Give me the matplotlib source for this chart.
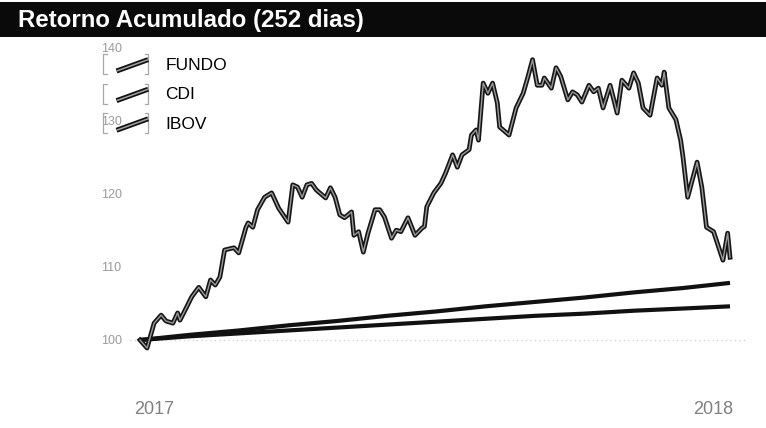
import matplotlib
matplotlib.use("Agg")
import matplotlib.pyplot as plt
from matplotlib.patches import Rectangle
from matplotlib.lines import Line2D
from matplotlib.legend_handler import HandlerBase

plt.rcParams['font.family'] = ['Liberation Sans', 'DejaVu Sans']

# ---------------- data ----------------
title = "Retorno Acumulado (252 dias)"
series_names = ["FUNDO", "CDI", "IBOV"]

ibov_days = [0, 3, 6, 9, 11, 14, 16, 17, 20, 22, 25, 28, 30, 32, 34, 36, 40, 42,
             45, 46, 48, 50, 53, 56, 59, 63, 65, 67, 69, 71, 73, 75, 79, 81, 83,
             85, 87, 90, 91, 93, 95, 97, 100, 102, 104, 107, 109, 111, 114, 117,
             120, 121, 122, 125, 128, 130, 133, 135, 137, 140, 141, 143, 144, 146,
             148, 150, 152, 153, 157, 160, 163, 165, 167, 169, 171, 172, 175, 177,
             179, 182, 184, 186, 188, 191, 193, 195, 197, 200, 203, 205, 208, 210,
             212, 214, 217, 220, 222, 223, 225, 228, 230, 231, 233, 237, 239, 241,
             244, 248, 250, 251]
ibov_vals = [100.0, 98.9, 102.3, 103.4, 102.6, 102.3, 103.7, 102.7, 104.6, 105.9,
             107.2, 105.9, 108.2, 107.5, 108.6, 112.3, 112.6, 111.9, 115.3, 116.0,
             115.4, 117.8, 119.5, 120.1, 118.0, 116.1, 121.2, 120.9, 119.5, 121.2,
             121.4, 120.5, 119.4, 120.8, 119.5, 117.1, 116.7, 117.5, 114.3, 114.8,
             112.0, 114.6, 117.8, 117.8, 116.8, 113.9, 115.0, 114.8, 116.7, 114.3,
             115.3, 115.5, 118.2, 120.1, 121.4, 122.8, 125.3, 123.6, 125.3, 126.0,
             128.0, 128.7, 127.3, 135.1, 133.7, 135.1, 132.4, 129.1, 128.0, 131.7,
             133.7, 135.9, 138.3, 134.8, 134.8, 135.8, 134.4, 137.2, 136.0, 132.8,
             133.9, 133.5, 132.5, 134.8, 133.9, 134.4, 131.7, 134.8, 131.0, 135.5,
             134.4, 136.5, 135.1, 131.7, 130.7, 135.8, 134.8, 136.6, 131.7, 130.1,
             127.3, 125.0, 119.5, 124.3, 120.9, 115.4, 114.8, 110.9, 114.6, 111.3]

month_days = [0, 21, 42, 63, 84, 105, 126, 147, 168, 189, 210, 231, 251]
cdi_vals = [100.0, 100.7, 101.3, 102.0, 102.6, 103.3, 103.9, 104.6, 105.2,
            105.8, 106.5, 107.1, 107.8]
fundo_vals = [100.0, 100.5, 100.9, 101.3, 101.7, 102.1, 102.5, 102.9, 103.3,
              103.6, 104.0, 104.3, 104.6]

yticks = [100, 110, 120, 130, 140]
xtick_days = [6, 244]
xtick_labels = ["2017", "2018"]

# ---------------- figure ----------------
W, H = 766, 428
fig = plt.figure(figsize=(W / 100, H / 100), dpi=100)
fig.patch.set_facecolor("white")

# title bar
fig.patches.append(Rectangle((0, 1 - 37 / H), 1, 35 / H, transform=fig.transFigure,
                             facecolor="#0a0a0a", edgecolor="none", zorder=0))
fig.text(18 / W, 1 - 20 / H, title, color="white", fontsize=17.3,
         fontweight="bold", va="center", ha="left")

ax = fig.add_axes([130 / W, 1 - 397 / H, (748 - 130) / W, (397 - 42) / H])
px_per_day = 590 / 251
ax.set_xlim(-10 / px_per_day, 251 + 18 / px_per_day)
ax.set_ylim(100 - 57 / 7.32, 100 + 298 / 7.32)

for s in ax.spines.values():
    s.set_visible(False)

ax.axhline(100, color="#c8c8c8", lw=0.8, ls=(0, (1, 3)), zorder=1)

# lines: dark outline with lighter core (scanned look)
ax.plot(month_days, fundo_vals, color="#111111", lw=3.0, solid_capstyle="butt", zorder=3)
ax.plot(month_days, cdi_vals, color="#111111", lw=3.0, solid_capstyle="butt", zorder=3)
ax.plot(ibov_days, ibov_vals, color="#151515", lw=3.4, zorder=4)
ax.plot(ibov_days, ibov_vals, color="#9a9a9a", lw=1.0, zorder=5)

ax.set_yticks(yticks)
ax.set_yticklabels([str(v) for v in yticks])
ax.set_xticks(xtick_days)
ax.set_xticklabels(xtick_labels)
ax.tick_params(axis="y", length=0, pad=6, labelsize=9, labelcolor="#9a9a9a")
ax.tick_params(axis="x", length=0, pad=3, labelsize=13, labelcolor="#808080")


class DiagHandler(HandlerBase):
    def create_artists(self, legend, orig_handle, xdescent, ydescent, width,
                       height, fontsize, trans):
        xl, xr = -xdescent, -xdescent + width
        yb, yt = -ydescent, -ydescent + height
        s = 0.08 * width
        lb = Line2D([xl + s, xl, xl, xl + s], [yt, yt, yb, yb], color="#a8a8a8",
                    lw=0.9, transform=trans)
        rb = Line2D([xr - s, xr, xr, xr - s], [yt, yt, yb, yb], color="#a8a8a8",
                    lw=0.9, transform=trans)
        x0, x1 = xl + 0.3 * width, xr
        y0, y1 = yb + 0.15 * height, yb + 0.72 * height
        l1 = Line2D([x0, x1], [y0, y1], color="#111111", lw=3.6, transform=trans,
                    solid_capstyle="butt")
        l2 = Line2D([x0, x1], [y0, y1], color="#a0a0a0", lw=1.1, transform=trans,
                    solid_capstyle="butt")
        return [lb, rb, l1, l2]


handles = [Line2D([], [], color="#111111") for _ in series_names]
leg = ax.legend(handles, series_names, loc="upper left",
                bbox_to_anchor=(103 / W, 1 - 54 / H), bbox_transform=fig.transFigure,
                frameon=False, fontsize=12.5, handlelength=2.6, handleheight=1.4,
                handletextpad=1.0, labelspacing=0.55, borderpad=0, borderaxespad=0,
                handler_map={Line2D: DiagHandler()})

fig.savefig("out.png", dpi=100, facecolor="white")
